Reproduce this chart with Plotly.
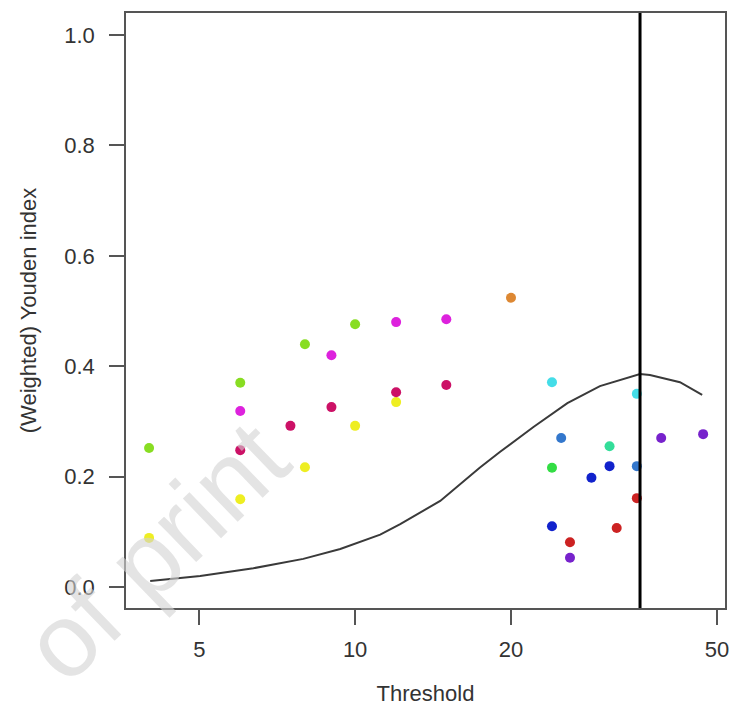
import math
import plotly.graph_objects as go

# ---- data ----
pt_x = [4, 6, 8, 10,
        4, 6, 8, 10, 12,
        6, 9, 12, 15,
        6, 7.5, 9, 12, 15,
        20,
        24, 35,
        25, 35,
        31,
        24,
        24, 28.6, 31,
        26, 32, 35,
        26, 39, 47]
pt_y = [0.252, 0.370, 0.440, 0.476,
        0.089, 0.159, 0.217, 0.292, 0.335,
        0.319, 0.420, 0.480, 0.485,
        0.248, 0.292, 0.326, 0.353, 0.366,
        0.524,
        0.371, 0.350,
        0.270, 0.219,
        0.255,
        0.216,
        0.110, 0.198, 0.219,
        0.081, 0.107, 0.161,
        0.053, 0.270, 0.277]
pt_group = ["lime"] * 4 + ["yellow"] * 5 + ["magenta"] * 4 + ["crimson"] * 5 + ["orange"] + \
           ["cyan"] * 2 + ["steel"] * 2 + ["teal"] + ["green"] + ["blue"] * 3 + ["red"] * 3 + ["purple"] * 3

curve_x = [4.02, 5.02, 6.36, 7.94, 9.36, 11.18, 12.22, 14.6, 17.4, 19.06, 22.1, 25.7, 29.7,
           35.5, 37.1, 42.4, 46.8]
curve_y = [0.011, 0.020, 0.034, 0.051, 0.069, 0.095, 0.114, 0.156, 0.216, 0.245, 0.290, 0.333,
           0.364, 0.386, 0.384, 0.371, 0.348]

optimal_threshold = 35.5

x_ticks = [5, 10, 20, 50]
y_ticks = [0.0, 0.2, 0.4, 0.6, 0.8, 1.0]

# ---- styles ----
palette = {
    "lime": "#88DD22", "yellow": "#EEEE22", "magenta": "#DD22DD", "crimson": "#CC1166",
    "orange": "#DD8833", "cyan": "#44DDE8", "steel": "#3377CC", "teal": "#33DD99",
    "green": "#33DD44", "blue": "#1122CC", "red": "#CC2222", "purple": "#7722CC",
}

fig = go.Figure()

fig.add_trace(go.Scatter(x=curve_x, y=curve_y, mode="lines", line=dict(color="#3a3a3a", width=2),
                         showlegend=False, hoverinfo="skip"))

fig.add_trace(go.Scatter(x=pt_x, y=pt_y, mode="markers",
                         marker=dict(color=[palette[g] for g in pt_group], size=10, line=dict(width=0)),
                         showlegend=False))

fig.add_trace(go.Scatter(x=[optimal_threshold, optimal_threshold], y=[-0.1, 1.2], mode="lines",
                         line=dict(color="black", width=3), showlegend=False, hoverinfo="skip"))

font_fam = "Liberation Sans, Arial, sans-serif"

fig.update_layout(
    width=732, height=727,
    margin=dict(l=126, r=7, t=13, b=119),
    paper_bgcolor="white", plot_bgcolor="white",
    font=dict(family=font_fam, size=22, color="#333333"),
    xaxis=dict(type="log", range=[math.log10(3.61), math.log10(51.8)], automargin=False,
               tickvals=x_ticks, ticktext=[str(v) for v in x_ticks],
               ticks="outside", ticklen=15, tickwidth=1.5, tickcolor="#555555",
               showline=True, linecolor="#555555", linewidth=1.5, mirror=True,
               showgrid=False, zeroline=False, ticklabelstandoff=6,
               title=dict(text="Threshold", font=dict(size=22, color="#333333"), standoff=24)),
    yaxis=dict(range=[-0.038, 1.04], tickvals=y_ticks, ticktext=["%.1f" % v for v in y_ticks],
               automargin=False,
               ticks="outside", ticklen=15, tickwidth=1.5, tickcolor="#555555",
               showline=True, linecolor="#555555", linewidth=1.5, mirror=True,
               showgrid=False, zeroline=False, ticklabelstandoff=10,
               title=dict(text="(Weighted) Youden index", font=dict(size=22, color="#333333"), standoff=22)),
)

fig.add_annotation(text="of print", xref="paper", yref="paper", x=0.05, y=0.095,
                   xanchor="center", yanchor="middle", showarrow=False, textangle=-44,
                   font=dict(family=font_fam, size=104, color="rgba(210,210,210,0.6)"))

fig.write_html("out.html", config={"displayModeBar": False},
               post_script="document.body.style.margin='0';document.body.style.overflow='hidden';")
